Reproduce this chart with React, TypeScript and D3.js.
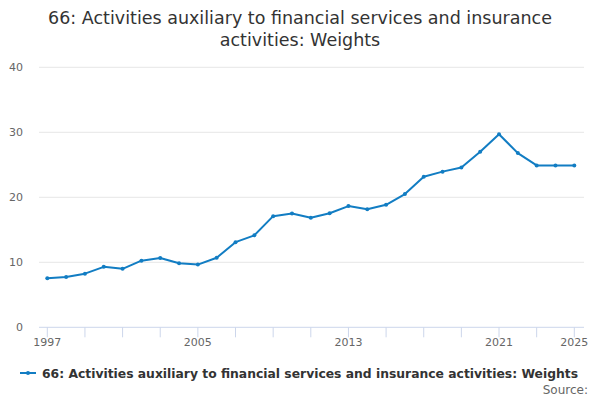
import { scaleLinear, line } from 'd3'

const years = [
	1997, 1998, 1999, 2000, 2001, 2002, 2003, 2004, 2005, 2006, 2007, 2008, 2009, 2010, 2011,
	2012, 2013, 2014, 2015, 2016, 2017, 2018, 2019, 2020, 2021, 2022, 2023, 2024, 2025,
]
const weights = [
	7.55, 7.75, 8.25, 9.3, 9.0, 10.25, 10.65, 9.85, 9.65, 10.7, 13.1, 14.15, 17.1, 17.5, 16.85,
	17.55, 18.65, 18.15, 18.85, 20.5, 23.15, 23.95, 24.6, 27.0, 29.7, 26.8, 24.9, 24.9, 24.9,
]
const yTicks = [0, 10, 20, 30, 40]
const xTicks = [1997, 1999, 2001, 2003, 2005, 2007, 2009, 2011, 2013, 2015, 2017, 2019, 2021, 2023, 2025]
const xLabels = [1997, 2005, 2013, 2021, 2025]

const titleLines = [
	'66: Activities auxiliary to financial services and insurance',
	'activities: Weights',
]
const seriesName = '66: Activities auxiliary to financial services and insurance activities: Weights'

const font = '"DejaVu Sans", Verdana, sans-serif'
const blue = '#127dc3'

export default function App() {
	const width = 600
	const height = 400
	const plotLeft = 39
	const plotRight = 584

	const x = scaleLinear().domain([1997, 2025]).range([47.3, 574.3])
	const y = scaleLinear().domain([0, 40]).range([327.3, 67.3])

	const path = line<number>()
		.x((_, i) => x(years[i]))
		.y((d) => y(d))(weights)

	return (
		<svg
			width={width}
			height={height}
			style={{ position: 'absolute', left: 0, top: 0, background: '#fff', fontFamily: font }}
		>
			{/* Title */}
			{titleLines.map((t, i) => (
				<text
					key={i}
					x={300}
					y={24 + i * 22}
					textAnchor='middle'
					fontSize={17.5}
					fill='#333'
				>
					{t}
				</text>
			))}

			{/* Grid lines */}
			{yTicks.slice(1).map((t) => (
				<line key={t} x1={plotLeft} x2={plotRight} y1={y(t)} y2={y(t)} stroke='#e6e6e6' strokeWidth={1} />
			))}
			{yTicks.map((t) => (
				<text key={t} x={23} y={y(t) + 4} textAnchor='end' fontSize={11} fill='#666'>
					{t}
				</text>
			))}

			{/* X axis */}
			<line x1={plotLeft} x2={plotRight} y1={y(0)} y2={y(0)} stroke='#ccd6eb' strokeWidth={1} />
			{xTicks.map((t) => (
				<line key={t} x1={x(t)} x2={x(t)} y1={y(0)} y2={y(0) + 10} stroke='#ccd6eb' strokeWidth={1} />
			))}
			{xLabels.map((t) => (
				<text key={t} x={x(t)} y={346} textAnchor='middle' fontSize={11} fill='#666'>
					{t}
				</text>
			))}

			{/* Series */}
			<path d={path ?? ''} fill='none' stroke={blue} strokeWidth={2} strokeLinejoin='round' />
			{weights.map((d, i) => (
				<circle key={i} cx={x(years[i])} cy={y(d)} r={2} fill={blue} />
			))}

			{/* Legend */}
			<line x1={20} x2={36} y1={373} y2={373} stroke={blue} strokeWidth={2} />
			<circle cx={28} cy={373} r={2} fill={blue} />
			<text
				x={42}
				y={377.5}
				fontSize={12.5}
				fontWeight='bold'
				fill='#333'
				textLength={536}
				lengthAdjust='spacingAndGlyphs'
			>
				{seriesName}
			</text>

			<text x={588} y={394} textAnchor='end' fontSize={12} fill='#666'>
				Source:
			</text>
		</svg>
	)
}
